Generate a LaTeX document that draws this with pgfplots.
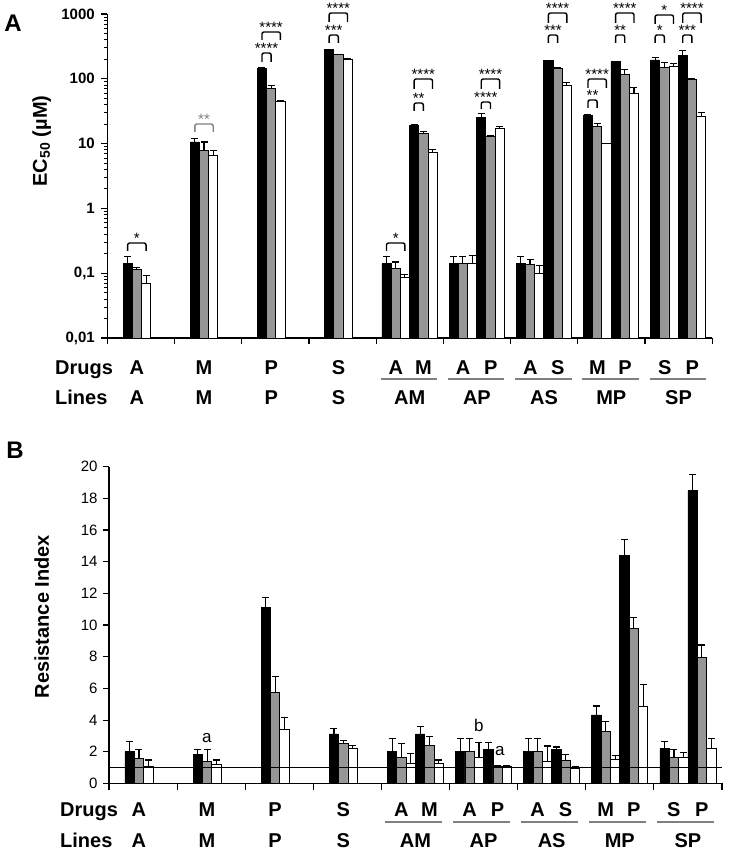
\documentclass[border=0pt]{standalone}
\usepackage{pgfplots}
\usepackage{pgfplotstable}
\pgfplotsset{compat=1.18}
\usetikzlibrary{calc}
\usepackage{fontspec}
\setmainfont{Liberation Sans}
\definecolor{bargray}{RGB}{150,150,150}
\definecolor{linegray}{RGB}{128,128,128}

% ---------- Panel A data (EC50) ----------
\pgfplotstableread{
x y e
0.303 0.14 0.04
1.303 10.6 1.4
2.303 145 5
3.303 280 6
4.1575 0.14 0.04
4.5685 18.8 0.8
5.1575 0.14 0.04
5.5685 25.3 3.7
6.1575 0.14 0.04
6.5685 190 3
7.1575 27.5 0.5
7.5685 183 3
8.1575 195 19
8.5685 232 39
}\Ablack
\pgfplotstableread{
x y e
0.44 0.113 0.011
1.44 7.9 2.7
2.44 71 9
3.44 235 5
4.2945 0.12 0.029
4.7055 14.3 1.3
5.2945 0.14 0.04
5.7055 12.7 0.7
6.2945 0.135 0.03
6.7055 145 3
7.2945 18.6 1.8
7.7055 118 22
8.2945 148 29
8.7055 99 1
}\Agray
\pgfplotstableread{
x y e
0.577 0.070 0.021
1.577 6.6 1.3
2.577 44 1.5
3.577 200 4
4.4315 0.085 0.01
4.8425 7.4 0.8
5.4315 0.14 0.045
5.8425 17.1 1.5
6.4315 0.10 0.03
6.8425 80 7
7.4315 10.0 0
7.8425 59.5 14.5
8.4315 157 16
8.8425 26.5 3.5
}\Awhite

% ---------- Panel B data (Resistance index) ----------
\pgfplotstableread{
x y e
0.303 2.0 0.63
1.303 1.84 0.31
2.303 11.1 0.63
3.303 3.12 0.32
4.1575 2.0 0.85
4.5685 3.12 0.46
5.1575 2.0 0.85
5.5685 2.15 0.42
6.1575 2.0 0.85
6.5685 2.15 0.15
7.1575 4.32 0.57
7.5685 14.38 1.0
8.1575 2.22 0.41
8.5685 18.49 0.99
}\Bblack
\pgfplotstableread{
x y e
0.44 1.58 0.57
1.44 1.37 0.78
2.44 5.73 1.0
3.44 2.53 0.17
4.2945 1.65 0.88
4.7055 2.38 0.57
5.2945 2.0 0.85
5.7055 1.1 0.05
6.2945 2.0 0.85
6.7055 1.48 0.36
7.2945 3.27 0.63
7.7055 9.8 0.69
8.2945 1.65 0.5
8.7055 7.96 0.78
}\Bgray
\pgfplotstableread{
x y e
0.577 1.1 0.38
1.577 1.2 0.28
2.577 3.44 0.71
3.577 2.22 0.2
4.4315 1.27 0.63
4.8425 1.27 0.21
5.4315 1.65 0.95
5.8425 1.1 0.05
6.4315 1.37 0.99
6.8425 0.95 0.1
7.4315 1.54 0.25
7.8425 4.89 1.37
8.4315 1.65 0.31
8.8425 2.22 0.63
}\Bwhite

\newcommand\starfont{\fontsize{15}{15}\selectfont}
\newcommand\rowfont{\fontsize{20}{22}\selectfont\bfseries}
% bracket: [colour]{x1}{x2}{h bottom}{h top}{stars}
\newcommand\brk[6][black]{%
  \draw[#1, line width=1.4pt, rounded corners=2pt]
    ([yshift=#4pt]axis cs:#2,0.01) -- ([yshift=#5pt]axis cs:#2,0.01) --
    ([yshift=#5pt]axis cs:#3,0.01) -- ([yshift=#4pt]axis cs:#3,0.01);
  \node[anchor=base, inner sep=0pt, yshift=-1pt, font=\starfont, text=#1]
    at ($([yshift=#5pt]axis cs:#2,0.01)!0.5!([yshift=#5pt]axis cs:#3,0.01)$) {#6};}

\pgfplotsset{
  barA/.style={ybar, bar width=0.137, bar shift=0pt, draw=black, line width=0.8pt,
    error bars/y dir=plus, error bars/y explicit,
    error bars/error bar style={line width=1.1pt, black},
    error bars/error mark options={rotate=90, mark size=3.5pt, line width=1.1pt, black}},
  common/.style={
    scale only axis, xmin=0, xmax=9,
    axis lines*=left, axis line style={line width=1.2pt},
    xtick=\empty,
    ytick pos=left,
    tick align=outside, major tick length=6pt, minor tick length=3pt,
    major tick style={black, line width=1.1pt},
    minor tick style={black, line width=0.8pt},
    clip=false},
}

\begin{document}
\begin{tikzpicture}
\useasboundingbox (0,0) rectangle (730pt,853pt);

% ================= Panel A =================
\begin{axis}[common,
  at={(107.3pt,515pt)}, anchor=south west,
  width=604.4pt, height=324pt,
  ymode=log, ymin=0.01, ymax=1000, log origin y=infty,
  ytick={0.01,0.1,1,10,100,1000}, yticklabels={{0,01},{0,1},1,10,100,1000},
  minor ytick={0.02,0.03,0.04,0.05,0.06,0.07,0.08,0.09,0.2,0.3,0.4,0.5,0.6,0.7,0.8,0.9,2,3,4,5,6,7,8,9,20,30,40,50,60,70,80,90,200,300,400,500,600,700,800,900},
  yticklabel style={font=\fontsize{15}{16}\selectfont\bfseries, xshift=-3pt},
]
\addplot[barA, fill=black] table[x=x, y=y, y error=e] {\Ablack};
\addplot[barA, fill=bargray] table[x=x, y=y, y error=e] {\Agray};
\addplot[barA, fill=white] table[x=x, y=y, y error=e] {\Awhite};

\brk{0.303}{0.577}{87}{95}{*}
\brk[linegray]{1.303}{1.577}{206}{214}{**}
\brk{2.303}{2.44}{276}{285}{****}
\brk{2.303}{2.577}{298}{306}{****}
\brk{3.303}{3.44}{295}{303}{***}
\brk{3.303}{3.577}{316}{325}{****}
\brk{4.1575}{4.4315}{87}{95}{*}
\brk{4.5685}{4.7055}{227}{235}{**}
\brk{4.5685}{4.8425}{249}{259}{****}
\brk{5.5685}{5.7055}{229}{236}{****}
\brk{5.5685}{5.8425}{249}{259}{****}
\brk{6.5685}{6.7055}{295}{303}{***}
\brk{6.5685}{6.8425}{315}{325}{****}
\brk{7.1575}{7.2945}{230}{238}{**}
\brk{7.1575}{7.4315}{250}{259}{****}
\brk{7.5685}{7.7055}{295}{303}{**}
\brk{7.5685}{7.8425}{315}{325}{****}
\brk{8.1575}{8.2945}{295}{303}{*}
\brk{8.1575}{8.4315}{314}{323}{*}
\brk{8.5685}{8.7055}{295}{303}{***}
\brk{8.5685}{8.8425}{315}{325}{****}
\end{axis}

% ================= Panel B =================
\begin{axis}[common,
  at={(109pt,69.6pt)}, anchor=south west,
  width=613pt, height=316.7pt,
  ymin=0, ymax=20,
  ytick={0,2,...,20},
  yticklabel style={font=\fontsize{15}{16}\selectfont, xshift=-2pt},
  /pgf/number format/assume math mode=true,
]
\addplot[barA, fill=black] table[x=x, y=y, y error=e] {\Bblack};
\addplot[barA, fill=bargray] table[x=x, y=y, y error=e] {\Bgray};
\addplot[barA, fill=white] table[x=x, y=y, y error=e] {\Bwhite};
\draw[line width=0.9pt] (axis cs:0,1) -- (axis cs:9,1);
\node[font=\fontsize{17}{17}\selectfont] at (axis cs:1.435,2.87) {a};
\node[font=\fontsize{17}{17}\selectfont] at (axis cs:5.43,3.69) {b};
\node[font=\fontsize{17}{17}\selectfont] at (axis cs:5.74,2.06) {a};
\end{axis}

% x-axis tick marks (category separators)
\foreach \k in {0,1,...,9}{
  \draw[line width=1.2pt, black] ({(107.3+67.2*\k)*1pt},515pt) -- ({(107.3+67.2*\k)*1pt},508.5pt);
  \draw[line width=1.2pt, black] ({(109+68.1*\k)*1pt},69.6pt) -- ({(109+68.1*\k)*1pt},63.1pt);
}

% ================= labels =================
\node[font=\fontsize{24}{24}\selectfont\bfseries] at (13pt,830pt) {A};
\node[font=\fontsize{24}{24}\selectfont\bfseries] at (15pt,403pt) {B};
\node[rotate=90, font=\fontsize{20}{22}\selectfont\bfseries] at (41.7pt,712pt) {EC\textsubscript{50} (µM)};
\node[rotate=90, font=\fontsize{20}{22}\selectfont\bfseries] at (41.7pt,236.3pt) {Resistance Index};

% rows panel A
\node[anchor=base west, inner sep=0pt, font=\rowfont] at (55pt,478pt) {Drugs};
\node[anchor=base west, inner sep=0pt, font=\rowfont] at (55pt,448pt) {Lines};
\foreach \u/\t in {0.44/A,1.44/M,2.44/P,3.44/S}{
  \node[anchor=base, inner sep=0pt, font=\rowfont] at ({(107.3+67.2*\u)*1pt},478pt) {\t};
  \node[anchor=base, inner sep=0pt, font=\rowfont] at ({(107.3+67.2*\u)*1pt},448pt) {\t};
}
\foreach \c/\a/\b in {4.5/A/M,5.5/A/P,6.5/A/S,7.5/M/P,8.5/S/P}{
  \node[anchor=base, inner sep=0pt, font=\rowfont] at ({(107.3+67.2*(\c-0.2055))*1pt},478pt) {\a};
  \node[anchor=base, inner sep=0pt, font=\rowfont] at ({(107.3+67.2*(\c+0.2055))*1pt},478pt) {\b};
  \node[anchor=base, inner sep=0pt, font=\rowfont] at ({(107.3+67.2*\c)*1pt},448pt) {\a\b};
  \draw[linegray, line width=2.2pt] ({(107.3+67.2*(\c-0.43))*1pt},473.7pt) -- ({(107.3+67.2*(\c+0.41))*1pt},473.7pt);
}

% rows panel B
\node[anchor=base west, inner sep=0pt, font=\rowfont] at (60pt,36.3pt) {Drugs};
\node[anchor=base west, inner sep=0pt, font=\rowfont] at (60pt,5.3pt) {Lines};
\foreach \u/\t in {0.44/A,1.44/M,2.44/P,3.44/S}{
  \node[anchor=base, inner sep=0pt, font=\rowfont] at ({(109+68.1*\u)*1pt},36.3pt) {\t};
  \node[anchor=base, inner sep=0pt, font=\rowfont] at ({(109+68.1*\u)*1pt},5.3pt) {\t};
}
\foreach \c/\a/\b in {4.5/A/M,5.5/A/P,6.5/A/S,7.5/M/P,8.5/S/P}{
  \node[anchor=base, inner sep=0pt, font=\rowfont] at ({(109+68.1*(\c-0.2055))*1pt},36.3pt) {\a};
  \node[anchor=base, inner sep=0pt, font=\rowfont] at ({(109+68.1*(\c+0.2055))*1pt},36.3pt) {\b};
  \node[anchor=base, inner sep=0pt, font=\rowfont] at ({(109+68.1*\c)*1pt},5.3pt) {\a\b};
  \draw[linegray, line width=2.2pt] ({(109+68.1*(\c-0.45))*1pt},31.3pt) -- ({(109+68.1*(\c+0.39))*1pt},31.3pt);
}
\end{tikzpicture}
\end{document}
